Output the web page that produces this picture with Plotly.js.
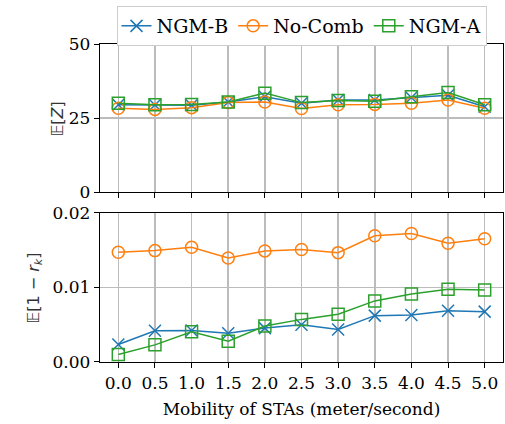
<!DOCTYPE html>
<html><head><meta charset="utf-8">
<script src="https://cdn.plot.ly/plotly-3.0.1.min.js"></script>
<style>html,body{margin:0;padding:0;background:#fff}#chart{width:505px;height:424px}</style>
</head><body><div id="chart"></div>
<script>
const mobility = [0.0, 0.5, 1.0, 1.5, 2.0, 2.5, 3.0, 3.5, 4.0, 4.5, 5.0];
const tickLabels = ["0.0","0.5","1.0","1.5","2.0","2.5","3.0","3.5","4.0","4.5","5.0"];
const seriesNames = ["NGM-B", "No-Comb", "NGM-A"];
const ezTicks = [0, 25, 50];
const ezTickLabels = ["0", "25", "50"];
const erTicks = [0, 0.01, 0.02];
const erTickLabels = ["0.00", "0.01", "0.02"];
const ezNGMB = [29.5, 29.4, 29.3, 30.4, 32.2, 30.0, 31.1, 31.1, 31.9, 32.7, 28.8];
const ezNoComb = [28.3, 27.9, 28.5, 30.2, 30.4, 28.2, 29.5, 29.6, 30.0, 31.1, 28.3];
const ezNGMA = [30.0, 29.5, 29.6, 30.4, 33.4, 30.2, 30.9, 30.7, 32.2, 33.6, 29.5];
const erNGMB = [0.00234, 0.00419, 0.00423, 0.00387, 0.00455, 0.00500, 0.00437, 0.00622, 0.00631, 0.00689, 0.00676];
const erNoComb = [0.01473, 0.01495, 0.01541, 0.01396, 0.01491, 0.01509, 0.01468, 0.01694, 0.01725, 0.01595, 0.01653];
const erNGMA = [0.00100, 0.00230, 0.00405, 0.00279, 0.00482, 0.00572, 0.00640, 0.00820, 0.00914, 0.00977, 0.00968];

const colors = ["#1f77b4", "#ff7f0e", "#2ca02c"];
const symbols = ["x-thin-open", "circle-open", "square-open"];
const topData = [ezNGMB, ezNoComb, ezNGMA];
const botData = [erNGMB, erNoComb, erNGMA];
const SERIF = 'DejaVu Serif';

const traces = [];
for (let i = 0; i < 3; i++) {
  traces.push({
    x: mobility, y: topData[i], name: seriesNames[i], type: 'scatter', mode: 'lines+markers',
    xaxis: 'x2', yaxis: 'y2', showlegend: true, legendgroup: seriesNames[i],
    line: {color: colors[i], width: 1.5},
    marker: {symbol: symbols[i], size: 12, color: colors[i], line: {color: colors[i], width: 1.5}}
  });
}
for (let i = 0; i < 3; i++) {
  traces.push({
    x: mobility, y: botData[i], name: seriesNames[i], type: 'scatter', mode: 'lines+markers',
    xaxis: 'x', yaxis: 'y', showlegend: false, legendgroup: seriesNames[i],
    line: {color: colors[i], width: 1.5},
    marker: {symbol: symbols[i], size: 12, color: colors[i], line: {color: colors[i], width: 1.5}}
  });
}

const axCommon = {
  showline: true, linecolor: '#000', linewidth: 1.2, mirror: true,
  ticks: 'outside', ticklen: 5, tickwidth: 1, tickcolor: '#000',
  showgrid: true, gridcolor: '#bcbcbc', gridwidth: 1.5, zeroline: false,
  tickfont: {family: SERIF, size: 17, color: '#000'}
};

const layout = {
  width: 505, height: 424,
  margin: {l: 100, r: 2, t: 44, b: 62, autoexpand: false},
  paper_bgcolor: '#fff', plot_bgcolor: '#fff',
  font: {family: SERIF, size: 17, color: '#000'},
  showlegend: true,
  legend: {orientation: 'h', x: 0.5, xanchor: 'center', y: 1.1195, yanchor: 'top',
    bordercolor: '#cccccc', borderwidth: 1, bgcolor: '#fff',
    font: {family: SERIF, size: 19, color: '#000'}, itemwidth: 30},
  xaxis: Object.assign({}, axCommon, {
    range: [-0.25, 5.25], tickvals: mobility, ticktext: tickLabels, anchor: 'y', automargin: false,
    title: {text: 'Mobility of STAs (meter/second)', font: {family: SERIF, size: 17, color: '#000'}, standoff: 11}
  }),
  yaxis: Object.assign({}, axCommon, {
    domain: [0, 0.4686], range: [0, 0.02], tickvals: erTicks, ticktext: erTickLabels,
    anchor: 'x', automargin: false
  }),
  xaxis2: Object.assign({}, axCommon, {
    range: [-0.25, 5.25], tickvals: mobility, showticklabels: false, anchor: 'y2', matches: 'x', automargin: false
  }),
  yaxis2: Object.assign({}, axCommon, {
    domain: [0.5346, 1], range: [0, 50], tickvals: ezTicks, ticktext: ezTickLabels,
    anchor: 'x2', automargin: false
  }),
  annotations: [
    {text: '𝔼[<i>Z</i>]', xref: 'paper', yref: 'paper', x: -0.106, y: 0.764, textangle: -90,
     showarrow: false, xanchor: 'center', yanchor: 'middle', font: {family: 'DejaVu Sans', size: 16, color: '#333'}},
    {text: '𝔼[1 − <i>r</i><sub><i>k</i></sub>]', xref: 'paper', yref: 'paper', x: -0.165, y: 0.2327, textangle: -90,
     showarrow: false, xanchor: 'center', yanchor: 'middle', font: {family: 'DejaVu Sans', size: 16, color: '#333'}}
  ]
};

Plotly.newPlot('chart', traces, layout, {displayModeBar: false, staticPlot: true});
</script></body></html>
